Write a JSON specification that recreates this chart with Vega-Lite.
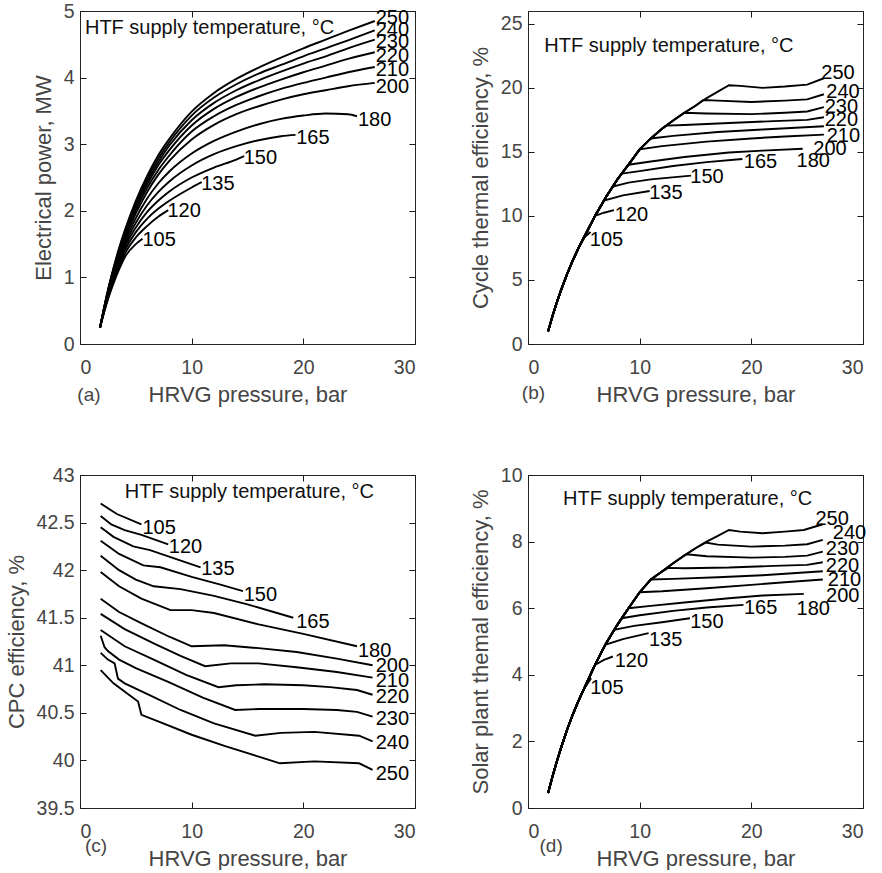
{
"$schema": "https://vega.github.io/schema/vega-lite/v6.json",
"padding": {"left": 4, "top": 0, "right": 0, "bottom": 0},
"config": {
  "font": "Liberation Sans",
  "view": {"stroke": "#262626", "strokeWidth": 1},
  "axis": {"domain": false, "grid": false, "ticks": true, "tickSize": 6, "tickWidth": 1, "offset": -6, "tickColor": "#1a1a1a", "labelFontSize": 19.5, "labelColor": "#454545", "titleFontSize": 22, "titleFontWeight": "normal", "titleColor": "#454545", "titlePadding": 8, "labelFont": "Liberation Sans", "titleFont": "Liberation Sans"},
  "axisX": {"labelPadding": 14},
  "axisY": {"labelPadding": 6},
  "text": {"font": "Liberation Sans", "align": "center", "baseline": "middle"}
},
"datasets": {
"a": [
{"T":250,"x":1.8,"y":0.25},{"T":250,"x":2.2,"y":0.58},{"T":250,"x":2.6,"y":0.88},{"T":250,"x":3,"y":1.14},{"T":250,"x":3.5,"y":1.44},{"T":250,"x":4,"y":1.70},{"T":250,"x":5,"y":2.15},{"T":250,"x":6,"y":2.52},{"T":250,"x":7,"y":2.83},{"T":250,"x":8,"y":3.08},{"T":250,"x":10,"y":3.49},{"T":250,"x":12,"y":3.77},{"T":250,"x":14,"y":3.98},{"T":250,"x":16,"y":4.15},{"T":250,"x":18,"y":4.30},{"T":250,"x":20,"y":4.44},{"T":250,"x":22,"y":4.57},{"T":250,"x":24,"y":4.70},{"T":250,"x":26.4,"y":4.85},
{"T":240,"x":1.8,"y":0.25},{"T":240,"x":2.2,"y":0.58},{"T":240,"x":2.6,"y":0.87},{"T":240,"x":3,"y":1.13},{"T":240,"x":3.5,"y":1.42},{"T":240,"x":4,"y":1.68},{"T":240,"x":5,"y":2.12},{"T":240,"x":6,"y":2.48},{"T":240,"x":7,"y":2.78},{"T":240,"x":8,"y":3.03},{"T":240,"x":10,"y":3.43},{"T":240,"x":12,"y":3.70},{"T":240,"x":14,"y":3.90},{"T":240,"x":16,"y":4.06},{"T":240,"x":18,"y":4.19},{"T":240,"x":20,"y":4.32},{"T":240,"x":22,"y":4.44},{"T":240,"x":24,"y":4.56},{"T":240,"x":26.4,"y":4.71},
{"T":230,"x":1.8,"y":0.25},{"T":230,"x":2.2,"y":0.57},{"T":230,"x":2.6,"y":0.86},{"T":230,"x":3,"y":1.11},{"T":230,"x":3.5,"y":1.40},{"T":230,"x":4,"y":1.65},{"T":230,"x":5,"y":2.09},{"T":230,"x":6,"y":2.44},{"T":230,"x":7,"y":2.73},{"T":230,"x":8,"y":2.98},{"T":230,"x":10,"y":3.36},{"T":230,"x":12,"y":3.62},{"T":230,"x":14,"y":3.81},{"T":230,"x":16,"y":3.96},{"T":230,"x":18,"y":4.09},{"T":230,"x":20,"y":4.21},{"T":230,"x":22,"y":4.32},{"T":230,"x":24,"y":4.44},{"T":230,"x":26.4,"y":4.57},
{"T":220,"x":1.8,"y":0.25},{"T":220,"x":2.2,"y":0.57},{"T":220,"x":2.6,"y":0.85},{"T":220,"x":3,"y":1.10},{"T":220,"x":3.5,"y":1.38},{"T":220,"x":4,"y":1.63},{"T":220,"x":5,"y":2.05},{"T":220,"x":6,"y":2.39},{"T":220,"x":7,"y":2.68},{"T":220,"x":8,"y":2.91},{"T":220,"x":10,"y":3.28},{"T":220,"x":12,"y":3.53},{"T":220,"x":14,"y":3.71},{"T":220,"x":16,"y":3.85},{"T":220,"x":18,"y":3.97},{"T":220,"x":20,"y":4.08},{"T":220,"x":22,"y":4.18},{"T":220,"x":24,"y":4.28},{"T":220,"x":26.4,"y":4.38},
{"T":210,"x":1.8,"y":0.25},{"T":210,"x":2.2,"y":0.56},{"T":210,"x":2.6,"y":0.84},{"T":210,"x":3,"y":1.08},{"T":210,"x":3.5,"y":1.36},{"T":210,"x":4,"y":1.60},{"T":210,"x":5,"y":2.01},{"T":210,"x":6,"y":2.34},{"T":210,"x":7,"y":2.61},{"T":210,"x":8,"y":2.83},{"T":210,"x":10,"y":3.19},{"T":210,"x":12,"y":3.42},{"T":210,"x":14,"y":3.59},{"T":210,"x":16,"y":3.72},{"T":210,"x":18,"y":3.83},{"T":210,"x":20,"y":3.92},{"T":210,"x":22,"y":4.00},{"T":210,"x":24,"y":4.08},{"T":210,"x":26.4,"y":4.16},
{"T":200,"x":1.8,"y":0.25},{"T":200,"x":2.2,"y":0.56},{"T":200,"x":2.6,"y":0.83},{"T":200,"x":3,"y":1.07},{"T":200,"x":3.5,"y":1.33},{"T":200,"x":4,"y":1.57},{"T":200,"x":5,"y":1.96},{"T":200,"x":6,"y":2.28},{"T":200,"x":7,"y":2.54},{"T":200,"x":8,"y":2.75},{"T":200,"x":10,"y":3.07},{"T":200,"x":12,"y":3.29},{"T":200,"x":14,"y":3.45},{"T":200,"x":16,"y":3.57},{"T":200,"x":18,"y":3.67},{"T":200,"x":20,"y":3.75},{"T":200,"x":22,"y":3.81},{"T":200,"x":24,"y":3.87},{"T":200,"x":26.4,"y":3.92},
{"T":180,"x":1.8,"y":0.25},{"T":180,"x":2.2,"y":0.55},{"T":180,"x":2.6,"y":0.82},{"T":180,"x":3,"y":1.05},{"T":180,"x":3.5,"y":1.30},{"T":180,"x":4,"y":1.53},{"T":180,"x":5,"y":1.89},{"T":180,"x":6,"y":2.18},{"T":180,"x":7,"y":2.41},{"T":180,"x":8,"y":2.59},{"T":180,"x":10,"y":2.86},{"T":180,"x":12,"y":3.05},{"T":180,"x":14,"y":3.19},{"T":180,"x":16,"y":3.30},{"T":180,"x":18,"y":3.38},{"T":180,"x":20,"y":3.43},{"T":180,"x":22,"y":3.46},{"T":180,"x":24,"y":3.45},{"T":180,"x":24.8,"y":3.42},
{"T":165,"x":1.8,"y":0.25},{"T":165,"x":2.2,"y":0.54},{"T":165,"x":2.6,"y":0.80},{"T":165,"x":3,"y":1.02},{"T":165,"x":3.5,"y":1.27},{"T":165,"x":4,"y":1.49},{"T":165,"x":5,"y":1.82},{"T":165,"x":6,"y":2.08},{"T":165,"x":7,"y":2.28},{"T":165,"x":8,"y":2.44},{"T":165,"x":10,"y":2.68},{"T":165,"x":12,"y":2.85},{"T":165,"x":14,"y":2.97},{"T":165,"x":16,"y":3.06},{"T":165,"x":18,"y":3.12},{"T":165,"x":19.3,"y":3.14},
{"T":150,"x":1.8,"y":0.25},{"T":150,"x":2.2,"y":0.53},{"T":150,"x":2.6,"y":0.78},{"T":150,"x":3,"y":1.00},{"T":150,"x":3.5,"y":1.24},{"T":150,"x":4,"y":1.45},{"T":150,"x":5,"y":1.75},{"T":150,"x":6,"y":1.98},{"T":150,"x":7,"y":2.15},{"T":150,"x":8,"y":2.29},{"T":150,"x":10,"y":2.50},{"T":150,"x":12,"y":2.65},{"T":150,"x":14,"y":2.77},{"T":150,"x":14.7,"y":2.82},
{"T":135,"x":1.8,"y":0.25},{"T":135,"x":2.2,"y":0.52},{"T":135,"x":2.6,"y":0.76},{"T":135,"x":3,"y":0.97},{"T":135,"x":3.5,"y":1.20},{"T":135,"x":4,"y":1.40},{"T":135,"x":5,"y":1.68},{"T":135,"x":6,"y":1.88},{"T":135,"x":7,"y":2.03},{"T":135,"x":8,"y":2.15},{"T":135,"x":10,"y":2.35},{"T":135,"x":10.9,"y":2.43},
{"T":120,"x":1.8,"y":0.25},{"T":120,"x":2.2,"y":0.51},{"T":120,"x":2.6,"y":0.74},{"T":120,"x":3,"y":0.94},{"T":120,"x":3.5,"y":1.16},{"T":120,"x":4,"y":1.35},{"T":120,"x":5,"y":1.60},{"T":120,"x":6,"y":1.77},{"T":120,"x":7,"y":1.91},{"T":120,"x":7.9,"y":2.01},
{"T":105,"x":1.8,"y":0.25},{"T":105,"x":2.2,"y":0.50},{"T":105,"x":2.6,"y":0.72},{"T":105,"x":3,"y":0.91},{"T":105,"x":3.5,"y":1.12},{"T":105,"x":4,"y":1.30},{"T":105,"x":5,"y":1.50},{"T":105,"x":5.6,"y":1.58}
],
"b": [
{"T":105,"x":1.8,"y":1.0},{"T":105,"x":2.2,"y":2.2},{"T":105,"x":2.6,"y":3.3},{"T":105,"x":3,"y":4.3},{"T":105,"x":3.5,"y":5.45},{"T":105,"x":4,"y":6.5},{"T":105,"x":4.5,"y":7.45},{"T":105,"x":5,"y":8.3},{"T":105,"x":5.6,"y":8.75},
{"T":120,"x":1.8,"y":1.0},{"T":120,"x":2.2,"y":2.2},{"T":120,"x":2.6,"y":3.3},{"T":120,"x":3,"y":4.3},{"T":120,"x":3.5,"y":5.45},{"T":120,"x":4,"y":6.5},{"T":120,"x":4.5,"y":7.45},{"T":120,"x":5,"y":8.3},{"T":120,"x":6,"y":10.0},{"T":120,"x":6.8,"y":10.25},{"T":120,"x":7.7,"y":10.45},
{"T":135,"x":1.8,"y":1.0},{"T":135,"x":2.2,"y":2.2},{"T":135,"x":2.6,"y":3.3},{"T":135,"x":3,"y":4.3},{"T":135,"x":3.5,"y":5.45},{"T":135,"x":4,"y":6.5},{"T":135,"x":4.5,"y":7.45},{"T":135,"x":5,"y":8.3},{"T":135,"x":6,"y":10.0},{"T":135,"x":6.8,"y":11.2},{"T":135,"x":8.5,"y":11.6},{"T":135,"x":10.9,"y":11.95},
{"T":150,"x":1.8,"y":1.0},{"T":150,"x":2.2,"y":2.2},{"T":150,"x":2.6,"y":3.3},{"T":150,"x":3,"y":4.3},{"T":150,"x":3.5,"y":5.45},{"T":150,"x":4,"y":6.5},{"T":150,"x":4.5,"y":7.45},{"T":150,"x":5,"y":8.3},{"T":150,"x":6,"y":10.0},{"T":150,"x":7,"y":11.5},{"T":150,"x":7.6,"y":12.3},{"T":150,"x":9,"y":12.6},{"T":150,"x":11,"y":12.85},{"T":150,"x":14.6,"y":13.15},
{"T":165,"x":1.8,"y":1.0},{"T":165,"x":2.2,"y":2.2},{"T":165,"x":2.6,"y":3.3},{"T":165,"x":3,"y":4.3},{"T":165,"x":3.5,"y":5.45},{"T":165,"x":4,"y":6.5},{"T":165,"x":4.5,"y":7.45},{"T":165,"x":5,"y":8.3},{"T":165,"x":6,"y":10.0},{"T":165,"x":7,"y":11.5},{"T":165,"x":8,"y":12.85},{"T":165,"x":8.4,"y":13.3},{"T":165,"x":10,"y":13.5},{"T":165,"x":13,"y":13.9},{"T":165,"x":16,"y":14.2},{"T":165,"x":19.2,"y":14.45},
{"T":180,"x":1.8,"y":1.0},{"T":180,"x":2.2,"y":2.2},{"T":180,"x":2.6,"y":3.3},{"T":180,"x":3,"y":4.3},{"T":180,"x":3.5,"y":5.45},{"T":180,"x":4,"y":6.5},{"T":180,"x":4.5,"y":7.45},{"T":180,"x":5,"y":8.3},{"T":180,"x":6,"y":10.0},{"T":180,"x":7,"y":11.5},{"T":180,"x":8,"y":12.85},{"T":180,"x":9,"y":14.0},{"T":180,"x":11,"y":14.25},{"T":180,"x":14,"y":14.6},{"T":180,"x":18,"y":14.95},{"T":180,"x":21,"y":15.1},{"T":180,"x":24.6,"y":15.25},
{"T":200,"x":1.8,"y":1.0},{"T":200,"x":2.2,"y":2.2},{"T":200,"x":2.6,"y":3.3},{"T":200,"x":3,"y":4.3},{"T":200,"x":3.5,"y":5.45},{"T":200,"x":4,"y":6.5},{"T":200,"x":4.5,"y":7.45},{"T":200,"x":5,"y":8.3},{"T":200,"x":6,"y":10.0},{"T":200,"x":7,"y":11.5},{"T":200,"x":8,"y":12.85},{"T":200,"x":9,"y":14.0},{"T":200,"x":10,"y":15.2},{"T":200,"x":12,"y":15.45},{"T":200,"x":16,"y":15.8},{"T":200,"x":20,"y":16.05},{"T":200,"x":23,"y":16.2},{"T":200,"x":26.5,"y":16.35},
{"T":210,"x":1.8,"y":1.0},{"T":210,"x":2.2,"y":2.2},{"T":210,"x":2.6,"y":3.3},{"T":210,"x":3,"y":4.3},{"T":210,"x":3.5,"y":5.45},{"T":210,"x":4,"y":6.5},{"T":210,"x":4.5,"y":7.45},{"T":210,"x":5,"y":8.3},{"T":210,"x":6,"y":10.0},{"T":210,"x":7,"y":11.5},{"T":210,"x":8,"y":12.85},{"T":210,"x":9,"y":14.0},{"T":210,"x":10,"y":15.2},{"T":210,"x":11,"y":16.05},{"T":210,"x":13,"y":16.25},{"T":210,"x":17,"y":16.55},{"T":210,"x":21,"y":16.75},{"T":210,"x":26.5,"y":17.0},
{"T":220,"x":1.8,"y":1.0},{"T":220,"x":2.2,"y":2.2},{"T":220,"x":2.6,"y":3.3},{"T":220,"x":3,"y":4.3},{"T":220,"x":3.5,"y":5.45},{"T":220,"x":4,"y":6.5},{"T":220,"x":4.5,"y":7.45},{"T":220,"x":5,"y":8.3},{"T":220,"x":6,"y":10.0},{"T":220,"x":7,"y":11.5},{"T":220,"x":8,"y":12.85},{"T":220,"x":9,"y":14.0},{"T":220,"x":10,"y":15.2},{"T":220,"x":11,"y":16.05},{"T":220,"x":12,"y":16.8},{"T":220,"x":12.4,"y":17.05},{"T":220,"x":14,"y":17.1},{"T":220,"x":18,"y":17.25},{"T":220,"x":22,"y":17.4},{"T":220,"x":25,"y":17.5},{"T":220,"x":26.5,"y":17.7},
{"T":230,"x":1.8,"y":1.0},{"T":230,"x":2.2,"y":2.2},{"T":230,"x":2.6,"y":3.3},{"T":230,"x":3,"y":4.3},{"T":230,"x":3.5,"y":5.45},{"T":230,"x":4,"y":6.5},{"T":230,"x":4.5,"y":7.45},{"T":230,"x":5,"y":8.3},{"T":230,"x":6,"y":10.0},{"T":230,"x":7,"y":11.5},{"T":230,"x":8,"y":12.85},{"T":230,"x":9,"y":14.0},{"T":230,"x":10,"y":15.2},{"T":230,"x":11,"y":16.05},{"T":230,"x":12,"y":16.8},{"T":230,"x":13,"y":17.45},{"T":230,"x":14,"y":18.05},{"T":230,"x":16,"y":18.0},{"T":230,"x":20,"y":17.95},{"T":230,"x":23,"y":18.05},{"T":230,"x":25,"y":18.15},{"T":230,"x":26.5,"y":18.5},
{"T":240,"x":1.8,"y":1.0},{"T":240,"x":2.2,"y":2.2},{"T":240,"x":2.6,"y":3.3},{"T":240,"x":3,"y":4.3},{"T":240,"x":3.5,"y":5.45},{"T":240,"x":4,"y":6.5},{"T":240,"x":4.5,"y":7.45},{"T":240,"x":5,"y":8.3},{"T":240,"x":6,"y":10.0},{"T":240,"x":7,"y":11.5},{"T":240,"x":8,"y":12.85},{"T":240,"x":9,"y":14.0},{"T":240,"x":10,"y":15.2},{"T":240,"x":11,"y":16.05},{"T":240,"x":12,"y":16.8},{"T":240,"x":13,"y":17.45},{"T":240,"x":14,"y":18.05},{"T":240,"x":15,"y":18.6},{"T":240,"x":15.7,"y":19.05},{"T":240,"x":17,"y":19.0},{"T":240,"x":20,"y":18.9},{"T":240,"x":23,"y":19.0},{"T":240,"x":25,"y":19.1},{"T":240,"x":26.5,"y":19.5},
{"T":250,"x":1.8,"y":1.0},{"T":250,"x":2.2,"y":2.2},{"T":250,"x":2.6,"y":3.3},{"T":250,"x":3,"y":4.3},{"T":250,"x":3.5,"y":5.45},{"T":250,"x":4,"y":6.5},{"T":250,"x":4.5,"y":7.45},{"T":250,"x":5,"y":8.3},{"T":250,"x":6,"y":10.0},{"T":250,"x":7,"y":11.5},{"T":250,"x":8,"y":12.85},{"T":250,"x":9,"y":14.0},{"T":250,"x":10,"y":15.2},{"T":250,"x":11,"y":16.05},{"T":250,"x":12,"y":16.8},{"T":250,"x":13,"y":17.45},{"T":250,"x":14,"y":18.05},{"T":250,"x":15,"y":18.6},{"T":250,"x":16,"y":19.2},{"T":250,"x":17,"y":19.7},{"T":250,"x":18,"y":20.2},{"T":250,"x":19,"y":20.15},{"T":250,"x":21,"y":20.0},{"T":250,"x":23,"y":20.1},{"T":250,"x":25,"y":20.25},{"T":250,"x":26.5,"y":20.75}
],
"c": [
{"T":105,"x":1.85,"y":42.70},{"T":105,"x":3.3,"y":42.59},{"T":105,"x":5.5,"y":42.48},
{"T":120,"x":1.85,"y":42.57},{"T":120,"x":2.8,"y":42.48},{"T":120,"x":4.0,"y":42.42},{"T":120,"x":5.5,"y":42.37},{"T":120,"x":7.9,"y":42.27},
{"T":135,"x":1.85,"y":42.45},{"T":135,"x":3.0,"y":42.35},{"T":135,"x":4.77,"y":42.25},{"T":135,"x":6.27,"y":42.21},{"T":135,"x":8.5,"y":42.12},{"T":135,"x":10.8,"y":42.03},
{"T":150,"x":1.85,"y":42.31},{"T":150,"x":3.5,"y":42.17},{"T":150,"x":5.67,"y":42.05},{"T":150,"x":7.2,"y":42.03},{"T":150,"x":10,"y":41.93},{"T":150,"x":12.5,"y":41.85},{"T":150,"x":14.6,"y":41.78},
{"T":165,"x":1.85,"y":42.15},{"T":165,"x":3.5,"y":42.0},{"T":165,"x":5.0,"y":41.9},{"T":165,"x":6.6,"y":41.83},{"T":165,"x":9,"y":41.8},{"T":165,"x":12,"y":41.73},{"T":165,"x":15,"y":41.64},{"T":165,"x":19.1,"y":41.5},
{"T":180,"x":1.85,"y":41.98},{"T":180,"x":3.5,"y":41.83},{"T":180,"x":5.5,"y":41.7},{"T":180,"x":8.1,"y":41.58},{"T":180,"x":10,"y":41.58},{"T":180,"x":12,"y":41.55},{"T":180,"x":16,"y":41.43},{"T":180,"x":20,"y":41.33},{"T":180,"x":24.8,"y":41.2},
{"T":200,"x":1.85,"y":41.70},{"T":200,"x":3.5,"y":41.56},{"T":200,"x":5.7,"y":41.43},{"T":200,"x":8,"y":41.3},{"T":200,"x":10,"y":41.2},{"T":200,"x":12.9,"y":41.21},{"T":200,"x":16,"y":41.18},{"T":200,"x":19.4,"y":41.14},{"T":200,"x":23,"y":41.07},{"T":200,"x":26.2,"y":41.0},
{"T":210,"x":1.85,"y":41.54},{"T":210,"x":4,"y":41.38},{"T":210,"x":6.6,"y":41.23},{"T":210,"x":9,"y":41.1},{"T":210,"x":11.2,"y":40.99},{"T":210,"x":13.5,"y":41.02},{"T":210,"x":16,"y":41.02},{"T":210,"x":19.4,"y":40.98},{"T":210,"x":23,"y":40.93},{"T":210,"x":26.2,"y":40.87},
{"T":220,"x":1.85,"y":41.37},{"T":220,"x":4,"y":41.2},{"T":220,"x":6.6,"y":41.06},{"T":220,"x":9.5,"y":40.9},{"T":220,"x":12.4,"y":40.77},{"T":220,"x":14,"y":40.79},{"T":220,"x":16.5,"y":40.8},{"T":220,"x":20,"y":40.79},{"T":220,"x":22.4,"y":40.77},{"T":220,"x":24.8,"y":40.74},{"T":220,"x":26.2,"y":40.69},
{"T":230,"x":1.85,"y":41.31},{"T":230,"x":2.2,"y":41.19},{"T":230,"x":2.5,"y":41.15},{"T":230,"x":3.5,"y":41.06},{"T":230,"x":5,"y":40.97},{"T":230,"x":8,"y":40.82},{"T":230,"x":11,"y":40.66},{"T":230,"x":13.9,"y":40.53},{"T":230,"x":16,"y":40.54},{"T":230,"x":20,"y":40.54},{"T":230,"x":23,"y":40.53},{"T":230,"x":24.8,"y":40.51},{"T":230,"x":26.2,"y":40.46},
{"T":240,"x":1.85,"y":41.13},{"T":240,"x":2.5,"y":41.06},{"T":240,"x":3.1,"y":41.02},{"T":240,"x":3.4,"y":40.86},{"T":240,"x":4,"y":40.81},{"T":240,"x":6,"y":40.7},{"T":240,"x":9,"y":40.53},{"T":240,"x":12,"y":40.39},{"T":240,"x":15.7,"y":40.26},{"T":240,"x":18,"y":40.29},{"T":240,"x":21,"y":40.3},{"T":240,"x":25,"y":40.26},{"T":240,"x":26.2,"y":40.2},
{"T":250,"x":1.85,"y":40.95},{"T":250,"x":3,"y":40.81},{"T":250,"x":4.5,"y":40.68},{"T":250,"x":5.2,"y":40.62},{"T":250,"x":5.5,"y":40.48},{"T":250,"x":7,"y":40.41},{"T":250,"x":10,"y":40.27},{"T":250,"x":13,"y":40.15},{"T":250,"x":16,"y":40.04},{"T":250,"x":17.9,"y":39.97},{"T":250,"x":21,"y":39.99},{"T":250,"x":25,"y":39.97},{"T":250,"x":26.2,"y":39.9}
],
"d": [
{"T":105,"x":1.8,"y":0.45},{"T":105,"x":2.2,"y":0.95},{"T":105,"x":2.6,"y":1.42},{"T":105,"x":3,"y":1.85},{"T":105,"x":3.5,"y":2.35},{"T":105,"x":4,"y":2.8},{"T":105,"x":4.5,"y":3.2},{"T":105,"x":5,"y":3.57},{"T":105,"x":5.65,"y":3.9},
{"T":120,"x":1.8,"y":0.45},{"T":120,"x":2.2,"y":0.95},{"T":120,"x":2.6,"y":1.42},{"T":120,"x":3,"y":1.85},{"T":120,"x":3.5,"y":2.35},{"T":120,"x":4,"y":2.8},{"T":120,"x":4.5,"y":3.2},{"T":120,"x":5,"y":3.57},{"T":120,"x":6,"y":4.3},{"T":120,"x":6.8,"y":4.45},{"T":120,"x":7.6,"y":4.55},
{"T":135,"x":1.8,"y":0.45},{"T":135,"x":2.2,"y":0.95},{"T":135,"x":2.6,"y":1.42},{"T":135,"x":3,"y":1.85},{"T":135,"x":3.5,"y":2.35},{"T":135,"x":4,"y":2.8},{"T":135,"x":4.5,"y":3.2},{"T":135,"x":5,"y":3.57},{"T":135,"x":6,"y":4.3},{"T":135,"x":6.9,"y":4.9},{"T":135,"x":8.5,"y":5.07},{"T":135,"x":10.8,"y":5.25},
{"T":150,"x":1.8,"y":0.45},{"T":150,"x":2.2,"y":0.95},{"T":150,"x":2.6,"y":1.42},{"T":150,"x":3,"y":1.85},{"T":150,"x":3.5,"y":2.35},{"T":150,"x":4,"y":2.8},{"T":150,"x":4.5,"y":3.2},{"T":150,"x":5,"y":3.57},{"T":150,"x":6,"y":4.3},{"T":150,"x":7,"y":4.95},{"T":150,"x":7.7,"y":5.35},{"T":150,"x":9.5,"y":5.47},{"T":150,"x":12,"y":5.58},{"T":150,"x":14.5,"y":5.7},
{"T":165,"x":1.8,"y":0.45},{"T":165,"x":2.2,"y":0.95},{"T":165,"x":2.6,"y":1.42},{"T":165,"x":3,"y":1.85},{"T":165,"x":3.5,"y":2.35},{"T":165,"x":4,"y":2.8},{"T":165,"x":4.5,"y":3.2},{"T":165,"x":5,"y":3.57},{"T":165,"x":6,"y":4.3},{"T":165,"x":7,"y":4.95},{"T":165,"x":8,"y":5.5},{"T":165,"x":8.4,"y":5.7},{"T":165,"x":10,"y":5.79},{"T":165,"x":13,"y":5.92},{"T":165,"x":16,"y":6.02},{"T":165,"x":19.3,"y":6.1},
{"T":180,"x":1.8,"y":0.45},{"T":180,"x":2.2,"y":0.95},{"T":180,"x":2.6,"y":1.42},{"T":180,"x":3,"y":1.85},{"T":180,"x":3.5,"y":2.35},{"T":180,"x":4,"y":2.8},{"T":180,"x":4.5,"y":3.2},{"T":180,"x":5,"y":3.57},{"T":180,"x":6,"y":4.3},{"T":180,"x":7,"y":4.95},{"T":180,"x":8,"y":5.5},{"T":180,"x":9,"y":6.0},{"T":180,"x":11,"y":6.07},{"T":180,"x":14,"y":6.17},{"T":180,"x":18,"y":6.3},{"T":180,"x":21,"y":6.38},{"T":180,"x":24.7,"y":6.43},
{"T":200,"x":1.8,"y":0.45},{"T":200,"x":2.2,"y":0.95},{"T":200,"x":2.6,"y":1.42},{"T":200,"x":3,"y":1.85},{"T":200,"x":3.5,"y":2.35},{"T":200,"x":4,"y":2.8},{"T":200,"x":4.5,"y":3.2},{"T":200,"x":5,"y":3.57},{"T":200,"x":6,"y":4.3},{"T":200,"x":7,"y":4.95},{"T":200,"x":8,"y":5.5},{"T":200,"x":9,"y":6.0},{"T":200,"x":10,"y":6.48},{"T":200,"x":12,"y":6.51},{"T":200,"x":16,"y":6.6},{"T":200,"x":20,"y":6.7},{"T":200,"x":23,"y":6.78},{"T":200,"x":26.4,"y":6.86},
{"T":210,"x":1.8,"y":0.45},{"T":210,"x":2.2,"y":0.95},{"T":210,"x":2.6,"y":1.42},{"T":210,"x":3,"y":1.85},{"T":210,"x":3.5,"y":2.35},{"T":210,"x":4,"y":2.8},{"T":210,"x":4.5,"y":3.2},{"T":210,"x":5,"y":3.57},{"T":210,"x":6,"y":4.3},{"T":210,"x":7,"y":4.95},{"T":210,"x":8,"y":5.5},{"T":210,"x":9,"y":6.0},{"T":210,"x":10,"y":6.48},{"T":210,"x":11,"y":6.86},{"T":210,"x":13,"y":6.88},{"T":210,"x":17,"y":6.93},{"T":210,"x":21,"y":6.99},{"T":210,"x":26.4,"y":7.11},
{"T":220,"x":1.8,"y":0.45},{"T":220,"x":2.2,"y":0.95},{"T":220,"x":2.6,"y":1.42},{"T":220,"x":3,"y":1.85},{"T":220,"x":3.5,"y":2.35},{"T":220,"x":4,"y":2.8},{"T":220,"x":4.5,"y":3.2},{"T":220,"x":5,"y":3.57},{"T":220,"x":6,"y":4.3},{"T":220,"x":7,"y":4.95},{"T":220,"x":8,"y":5.5},{"T":220,"x":9,"y":6.0},{"T":220,"x":10,"y":6.48},{"T":220,"x":11,"y":6.86},{"T":220,"x":12,"y":7.1},{"T":220,"x":12.55,"y":7.21},{"T":220,"x":14,"y":7.2},{"T":220,"x":18,"y":7.22},{"T":220,"x":22,"y":7.27},{"T":220,"x":25,"y":7.3},{"T":220,"x":26.4,"y":7.38},
{"T":230,"x":1.8,"y":0.45},{"T":230,"x":2.2,"y":0.95},{"T":230,"x":2.6,"y":1.42},{"T":230,"x":3,"y":1.85},{"T":230,"x":3.5,"y":2.35},{"T":230,"x":4,"y":2.8},{"T":230,"x":4.5,"y":3.2},{"T":230,"x":5,"y":3.57},{"T":230,"x":6,"y":4.3},{"T":230,"x":7,"y":4.95},{"T":230,"x":8,"y":5.5},{"T":230,"x":9,"y":6.0},{"T":230,"x":10,"y":6.48},{"T":230,"x":11,"y":6.86},{"T":230,"x":12,"y":7.1},{"T":230,"x":13,"y":7.35},{"T":230,"x":14,"y":7.58},{"T":230,"x":14.2,"y":7.62},{"T":230,"x":16,"y":7.56},{"T":230,"x":20,"y":7.52},{"T":230,"x":23,"y":7.54},{"T":230,"x":25,"y":7.58},{"T":230,"x":26.4,"y":7.7},
{"T":240,"x":1.8,"y":0.45},{"T":240,"x":2.2,"y":0.95},{"T":240,"x":2.6,"y":1.42},{"T":240,"x":3,"y":1.85},{"T":240,"x":3.5,"y":2.35},{"T":240,"x":4,"y":2.8},{"T":240,"x":4.5,"y":3.2},{"T":240,"x":5,"y":3.57},{"T":240,"x":6,"y":4.3},{"T":240,"x":7,"y":4.95},{"T":240,"x":8,"y":5.5},{"T":240,"x":9,"y":6.0},{"T":240,"x":10,"y":6.48},{"T":240,"x":11,"y":6.86},{"T":240,"x":12,"y":7.1},{"T":240,"x":13,"y":7.35},{"T":240,"x":14,"y":7.58},{"T":240,"x":15,"y":7.8},{"T":240,"x":15.9,"y":7.97},{"T":240,"x":17,"y":7.91},{"T":240,"x":20,"y":7.85},{"T":240,"x":23,"y":7.88},{"T":240,"x":25,"y":7.92},{"T":240,"x":26.4,"y":8.05},
{"T":250,"x":1.8,"y":0.45},{"T":250,"x":2.2,"y":0.95},{"T":250,"x":2.6,"y":1.42},{"T":250,"x":3,"y":1.85},{"T":250,"x":3.5,"y":2.35},{"T":250,"x":4,"y":2.8},{"T":250,"x":4.5,"y":3.2},{"T":250,"x":5,"y":3.57},{"T":250,"x":6,"y":4.3},{"T":250,"x":7,"y":4.95},{"T":250,"x":8,"y":5.5},{"T":250,"x":9,"y":6.0},{"T":250,"x":10,"y":6.48},{"T":250,"x":11,"y":6.86},{"T":250,"x":12,"y":7.1},{"T":250,"x":13,"y":7.35},{"T":250,"x":14,"y":7.58},{"T":250,"x":15,"y":7.8},{"T":250,"x":16,"y":8.0},{"T":250,"x":17,"y":8.17},{"T":250,"x":18,"y":8.35},{"T":250,"x":19,"y":8.3},{"T":250,"x":21,"y":8.25},{"T":250,"x":23,"y":8.3},{"T":250,"x":24.7,"y":8.35},{"T":250,"x":26.4,"y":8.52}
],
"aL": [
{"k":"c","x":7.09,"y":1.56,"t":"105"},{"k":"c","x":9.33,"y":1.99,"t":"120"},{"k":"c","x":12.35,"y":2.40,"t":"135"},{"k":"c","x":16.15,"y":2.80,"t":"150"},{"k":"c","x":20.85,"y":3.10,"t":"165"},{"k":"c","x":26.38,"y":3.37,"t":"180"},{"k":"c","x":27.97,"y":3.86,"t":"200"},{"k":"c","x":27.97,"y":4.11,"t":"210"},{"k":"c","x":27.97,"y":4.33,"t":"220"},{"k":"c","x":27.97,"y":4.53,"t":"230"},{"k":"c","x":27.97,"y":4.71,"t":"240"},{"k":"c","x":27.97,"y":4.89,"t":"250"},
{"k":"n","x":11.6,"y":4.74,"t":"HTF supply temperature, °C"},{"k":"g","x":0.8,"y":-0.77,"t":"(a)"}
],
"bL": [
{"k":"c","x":7.03,"y":8.13,"t":"105"},{"k":"c","x":9.27,"y":10.05,"t":"120"},{"k":"c","x":12.35,"y":11.8,"t":"135"},{"k":"c","x":16.03,"y":13.05,"t":"150"},{"k":"c","x":20.82,"y":14.18,"t":"165"},{"k":"c","x":25.55,"y":14.25,"t":"180"},{"k":"c","x":27.04,"y":15.25,"t":"200"},{"k":"c","x":28.24,"y":16.25,"t":"210"},{"k":"c","x":28.06,"y":17.5,"t":"220"},{"k":"c","x":28.06,"y":18.5,"t":"230"},{"k":"c","x":28.21,"y":19.68,"t":"240"},{"k":"c","x":27.76,"y":21.13,"t":"250"},
{"k":"n","x":12.62,"y":23.3,"t":"HTF supply temperature, °C"},{"k":"g","x":0.49,"y":-3.83,"t":"(b)"}
],
"cL": [
{"k":"c","x":7.09,"y":42.44,"t":"105"},{"k":"c","x":9.45,"y":42.24,"t":"120"},{"k":"c","x":12.35,"y":42.01,"t":"135"},{"k":"c","x":16.15,"y":41.74,"t":"150"},{"k":"c","x":20.85,"y":41.46,"t":"165"},{"k":"c","x":26.38,"y":41.15,"t":"180"},{"k":"c","x":27.97,"y":40.99,"t":"200"},{"k":"c","x":27.97,"y":40.84,"t":"210"},{"k":"c","x":27.97,"y":40.67,"t":"220"},{"k":"c","x":27.97,"y":40.44,"t":"230"},{"k":"c","x":27.97,"y":40.18,"t":"240"},{"k":"c","x":27.97,"y":39.86,"t":"250"},
{"k":"n","x":15.17,"y":42.82,"t":"HTF supply temperature, °C"},{"k":"g","x":1.43,"y":39.10,"t":"(c)"}
],
"dL": [
{"k":"c","x":7.06,"y":3.59,"t":"105"},{"k":"c","x":9.26,"y":4.40,"t":"120"},{"k":"c","x":12.32,"y":5.05,"t":"135"},{"k":"c","x":16.02,"y":5.60,"t":"150"},{"k":"c","x":20.83,"y":6.01,"t":"165"},{"k":"c","x":25.55,"y":5.98,"t":"180"},{"k":"c","x":28.19,"y":6.36,"t":"200"},{"k":"c","x":28.34,"y":6.86,"t":"210"},{"k":"c","x":28.16,"y":7.28,"t":"220"},{"k":"c","x":28.16,"y":7.79,"t":"230"},{"k":"c","x":28.79,"y":8.27,"t":"240"},{"k":"c","x":27.23,"y":8.67,"t":"250"},
{"k":"n","x":14.3,"y":9.28,"t":"HTF supply temperature, °C"},{"k":"g","x":2.07,"y":-1.13,"t":"(d)"}
]
},
"columns": 2,
"spacing": {"row": 58, "column": 52},
"concat": [
{
 "width": 335, "height": 333,
 "resolve": {"axis": {"x": "independent", "y": "independent"}},
 "layer": [
  {"data": {"name": "a"}, "mark": {"type": "line", "color": "black", "strokeWidth": 1.9, "interpolate": "monotone"},
   "encoding": {
    "x": {"field": "x", "type": "quantitative", "scale": {"domain": [0, 30]}, "axis": {"values": [0, 10, 20, 30], "title": "HRVG pressure, bar"}},
    "y": {"field": "y", "type": "quantitative", "scale": {"domain": [0, 5]}, "axis": {"values": [0, 1, 2, 3, 4, 5], "title": "Electrical power, MW"}},
    "detail": {"field": "T", "type": "nominal"}}},
  {"data": {"name": "aL"}, "transform": [{"filter": "datum.k == 'c'"}], "mark": {"type": "text", "fontSize": 20, "color": "black"},
   "encoding": {"x": {"field": "x", "type": "quantitative", "axis": null}, "y": {"field": "y", "type": "quantitative", "axis": null}, "text": {"field": "t"}}},
  {"data": {"name": "aL"}, "transform": [{"filter": "datum.k == 'g'"}], "mark": {"type": "text", "fontSize": 19, "color": "#454545"},
   "encoding": {"x": {"field": "x", "type": "quantitative", "axis": null}, "y": {"field": "y", "type": "quantitative", "axis": null}, "text": {"field": "t"}}},
  {"data": {"name": "aL"}, "transform": [{"filter": "datum.k == 'n'"}], "mark": {"type": "text", "fontSize": 20, "color": "#111111"},
   "encoding": {"x": {"field": "x", "type": "quantitative", "axis": {"orient": "top", "labels": false, "title": null, "values": [0, 10, 20, 30]}}, "y": {"field": "y", "type": "quantitative", "axis": {"orient": "right", "labels": false, "title": null, "values": [0, 1, 2, 3, 4, 5]}}, "text": {"field": "t"}}}
 ]
},
{
 "width": 335, "height": 333,
 "resolve": {"axis": {"x": "independent", "y": "independent"}},
 "layer": [
  {"data": {"name": "b"}, "mark": {"type": "line", "color": "black", "strokeWidth": 1.9},
   "encoding": {
    "x": {"field": "x", "type": "quantitative", "scale": {"domain": [0, 30]}, "axis": {"values": [0, 10, 20, 30], "title": "HRVG pressure, bar"}},
    "y": {"field": "y", "type": "quantitative", "scale": {"domain": [0, 25]}, "axis": {"values": [0, 5, 10, 15, 20, 25], "title": "Cycle thermal efficiency, %"}},
    "detail": {"field": "T", "type": "nominal"}}},
  {"data": {"name": "bL"}, "transform": [{"filter": "datum.k == 'c'"}], "mark": {"type": "text", "fontSize": 20, "color": "black"},
   "encoding": {"x": {"field": "x", "type": "quantitative", "axis": null}, "y": {"field": "y", "type": "quantitative", "axis": null}, "text": {"field": "t"}}},
  {"data": {"name": "bL"}, "transform": [{"filter": "datum.k == 'g'"}], "mark": {"type": "text", "fontSize": 19, "color": "#454545"},
   "encoding": {"x": {"field": "x", "type": "quantitative", "axis": null}, "y": {"field": "y", "type": "quantitative", "axis": null}, "text": {"field": "t"}}},
  {"data": {"name": "bL"}, "transform": [{"filter": "datum.k == 'n'"}], "mark": {"type": "text", "fontSize": 20, "color": "#111111"},
   "encoding": {"x": {"field": "x", "type": "quantitative", "axis": {"orient": "top", "labels": false, "title": null, "values": [0, 10, 20, 30]}}, "y": {"field": "y", "type": "quantitative", "axis": {"orient": "right", "labels": false, "title": null, "values": [0, 5, 10, 15, 20, 25]}}, "text": {"field": "t"}}}
 ]
},
{
 "width": 335, "height": 333,
 "resolve": {"axis": {"x": "independent", "y": "independent"}},
 "layer": [
  {"data": {"name": "c"}, "mark": {"type": "line", "color": "black", "strokeWidth": 1.9},
   "encoding": {
    "x": {"field": "x", "type": "quantitative", "scale": {"domain": [0, 30]}, "axis": {"values": [0, 10, 20, 30], "title": "HRVG pressure, bar"}},
    "y": {"field": "y", "type": "quantitative", "scale": {"domain": [39.5, 43]}, "axis": {"values": [39.5, 40, 40.5, 41, 41.5, 42, 42.5, 43], "format": "~g", "title": "CPC efficiency, %"}},
    "detail": {"field": "T", "type": "nominal"}}},
  {"data": {"name": "cL"}, "transform": [{"filter": "datum.k == 'c'"}], "mark": {"type": "text", "fontSize": 20, "color": "black"},
   "encoding": {"x": {"field": "x", "type": "quantitative", "axis": null}, "y": {"field": "y", "type": "quantitative", "axis": null}, "text": {"field": "t"}}},
  {"data": {"name": "cL"}, "transform": [{"filter": "datum.k == 'g'"}], "mark": {"type": "text", "fontSize": 19, "color": "#454545"},
   "encoding": {"x": {"field": "x", "type": "quantitative", "axis": null}, "y": {"field": "y", "type": "quantitative", "axis": null}, "text": {"field": "t"}}},
  {"data": {"name": "cL"}, "transform": [{"filter": "datum.k == 'n'"}], "mark": {"type": "text", "fontSize": 20, "color": "#111111"},
   "encoding": {"x": {"field": "x", "type": "quantitative", "axis": {"orient": "top", "labels": false, "title": null, "values": [0, 10, 20, 30]}}, "y": {"field": "y", "type": "quantitative", "axis": {"orient": "right", "labels": false, "title": null, "values": [39.5, 40, 40.5, 41, 41.5, 42, 42.5, 43]}}, "text": {"field": "t"}}}
 ]
},
{
 "width": 335, "height": 333,
 "resolve": {"axis": {"x": "independent", "y": "independent"}},
 "layer": [
  {"data": {"name": "d"}, "mark": {"type": "line", "color": "black", "strokeWidth": 1.9},
   "encoding": {
    "x": {"field": "x", "type": "quantitative", "scale": {"domain": [0, 30]}, "axis": {"values": [0, 10, 20, 30], "title": "HRVG pressure, bar"}},
    "y": {"field": "y", "type": "quantitative", "scale": {"domain": [0, 10]}, "axis": {"values": [0, 2, 4, 6, 8, 10], "title": "Solar plant themal efficiency, %"}},
    "detail": {"field": "T", "type": "nominal"}}},
  {"data": {"name": "dL"}, "transform": [{"filter": "datum.k == 'c'"}], "mark": {"type": "text", "fontSize": 20, "color": "black"},
   "encoding": {"x": {"field": "x", "type": "quantitative", "axis": null}, "y": {"field": "y", "type": "quantitative", "axis": null}, "text": {"field": "t"}}},
  {"data": {"name": "dL"}, "transform": [{"filter": "datum.k == 'g'"}], "mark": {"type": "text", "fontSize": 19, "color": "#454545"},
   "encoding": {"x": {"field": "x", "type": "quantitative", "axis": null}, "y": {"field": "y", "type": "quantitative", "axis": null}, "text": {"field": "t"}}},
  {"data": {"name": "dL"}, "transform": [{"filter": "datum.k == 'n'"}], "mark": {"type": "text", "fontSize": 20, "color": "#111111"},
   "encoding": {"x": {"field": "x", "type": "quantitative", "axis": {"orient": "top", "labels": false, "title": null, "values": [0, 10, 20, 30]}}, "y": {"field": "y", "type": "quantitative", "axis": {"orient": "right", "labels": false, "title": null, "values": [0, 2, 4, 6, 8, 10]}}, "text": {"field": "t"}}}
 ]
}
]
}
